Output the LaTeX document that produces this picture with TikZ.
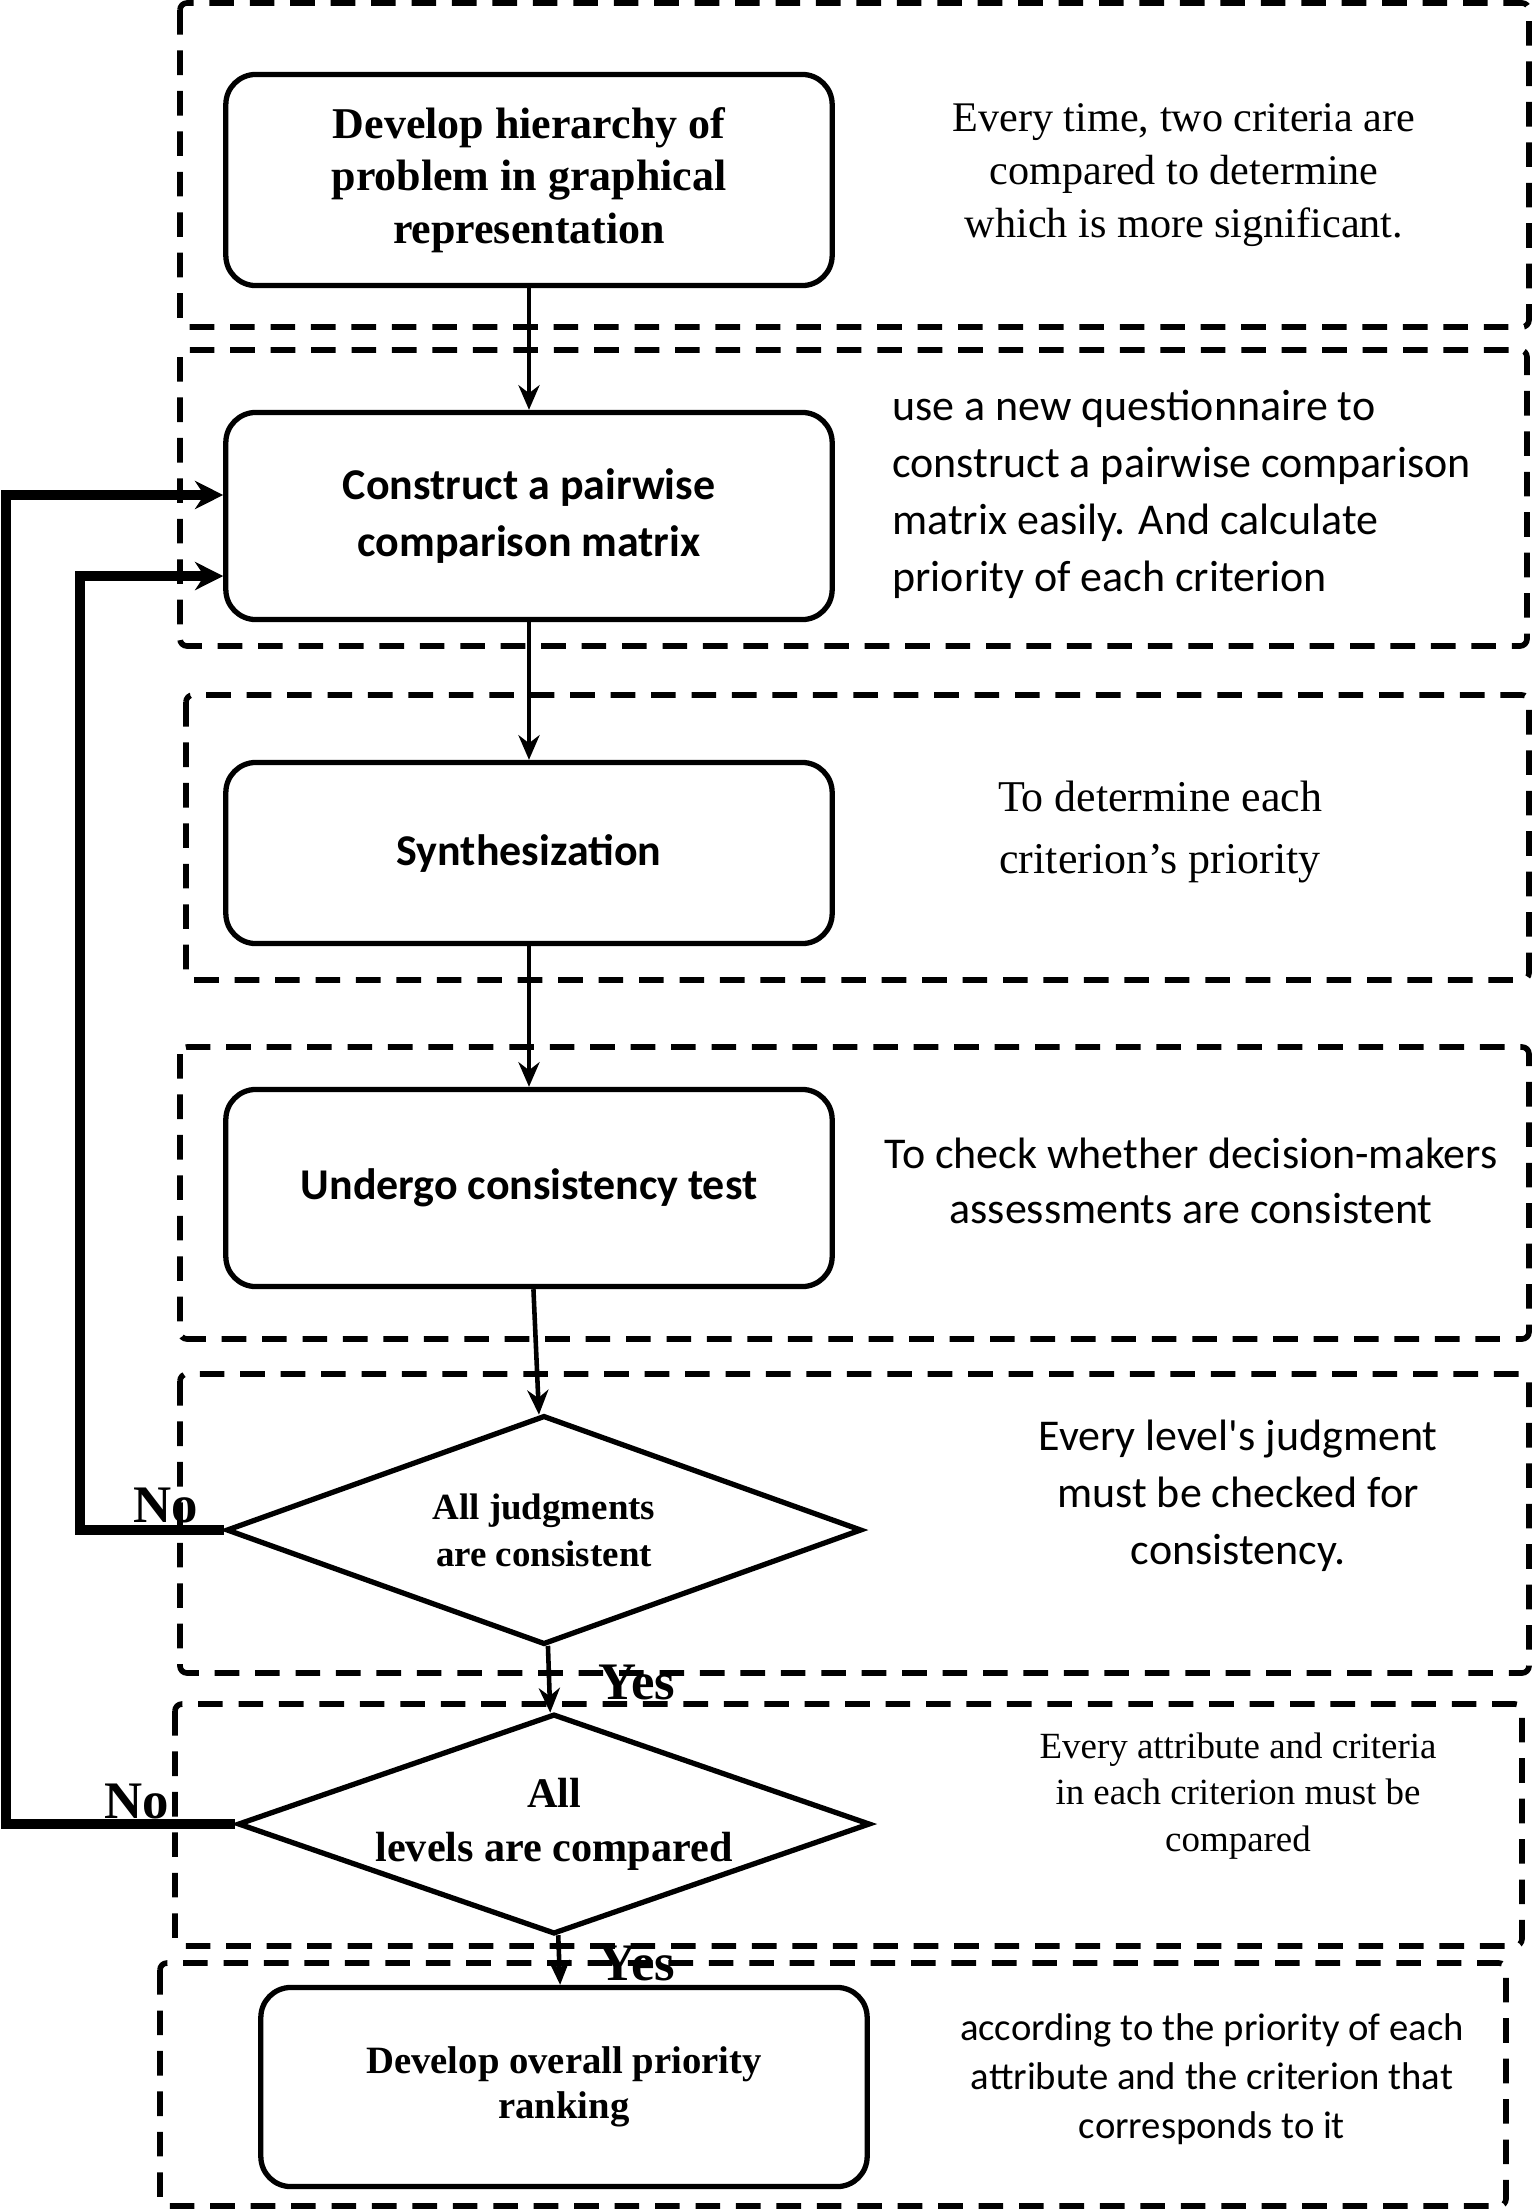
\documentclass[tikz,border=0pt]{standalone}
\usepackage{fontspec}
\setmainfont{Liberation Serif}
\newfontfamily\calfont{Carlito}
\usetikzlibrary{shapes.geometric,arrows.meta}

\begin{document}
\begin{tikzpicture}[
        x=0.01cm, y=-0.01cm,
        proc/.style={rectangle, draw, line width=1.5pt, rounded corners=0.3cm,
                     minimum width=6.06cm, align=center},
        decide/.style={diamond, draw, line width=1.5pt, inner sep=0pt, aspect=2.8,
                       align=center},
        frame/.style={draw, line width=1.6pt, dash pattern=on 7pt off 4.5pt,
                      rounded corners=2pt},
        note/.style={align=center},
        flow/.style={-{Stealth[length=7pt,width=6pt]}, line width=1.3pt},
        back/.style={-{Stealth[length=8pt,width=8pt]}, line width=2.6pt},
        answer/.style={font=\fontsize{15}{15}\selectfont\bfseries}
    ]
        \useasboundingbox (0,0) rectangle (1535,2211);

        % dashed frames, one per step
        \draw[frame] (180,3) rectangle (1529,327);
        \draw[frame] (180,350) rectangle (1527,646);
        \draw[frame] (186,695) rectangle (1529,980);
        \draw[frame] (180,1047) rectangle (1529,1339);
        \draw[frame] (180,1374) rectangle (1529,1673);
        \draw[frame] (175,1704) rectangle (1522,1946);
        \draw[frame] (160,1963) rectangle (1506,2206);

        % steps
        \node[proc, minimum height=2.11cm, font=\fontsize{12.5}{15}\selectfont\bfseries]
            (hier) at (529,180) {Develop hierarchy of\\problem in graphical\\representation};
        \node[proc, minimum height=2.07cm, font=\calfont\fontsize{12.5}{16}\selectfont\bfseries]
            (pair) at (529,516) {Construct a pairwise\\comparison matrix};
        \node[proc, minimum height=1.81cm, font=\calfont\fontsize{12.5}{16}\selectfont\bfseries]
            (synth) at (529,853) {Synthesization};
        \node[proc, minimum height=1.97cm, font=\calfont\fontsize{12.5}{16}\selectfont\bfseries]
            (test) at (529,1188) {Undergo consistency test};
        \node[decide, minimum width=6.35cm, minimum height=2.29cm,
              font=\fontsize{10.5}{13.3}\selectfont\bfseries]
            (judge) at (544,1530) {All judgments\\are consistent};
        \node[decide, minimum width=6.32cm, minimum height=2.2cm,
              font=\fontsize{12}{15.3}\selectfont\bfseries]
            (levels) at (554,1824) {All\\levels are compared};
        \node[proc, minimum height=1.99cm, font=\fontsize{11}{12.8}\selectfont\bfseries]
            (rank) at (564,2087) {Develop overall priority\\ranking};

        % notes on the right
        \node[note, font=\fontsize{12}{15}\selectfont] (n1) at (1184,175)
            {Every time, two criteria are\\compared to determine\\which is more significant.};
        \node[note, align=left, anchor=west, font=\calfont\fontsize{12.5}{16.2}\selectfont]
            (n2) at (880,494) {use a new questionnaire to\\construct a pairwise comparison\\matrix easily. And calculate\\priority of each criterion};
        \node[note, font=\fontsize{12.5}{17.6}\selectfont] (n3) at (1160,832)
            {To determine each\\criterion's priority};
        \node[note, font=\calfont\fontsize{12.5}{15.6}\selectfont] (n4) at (1191,1181)
            {To check whether decision-makers\\assessments are consistent};
        \node[note, font=\calfont\fontsize{12.5}{16.2}\selectfont] (n5) at (1238,1496)
            {Every level's judgment\\must be checked for\\consistency.};
        \node[note, font=\fontsize{10.5}{13.3}\selectfont] (n6) at (1238,1796)
            {Every attribute and criteria\\in each criterion must be\\compared};
        \node[note, font=\calfont\fontsize{11}{13.9}\selectfont] (n7) at (1212,2079)
            {according to the priority of each\\attribute and the criterion that\\corresponds to it};

        % main flow
        \draw[flow] (hier) -- (pair);
        \draw[flow] (pair) -- (synth);
        \draw[flow] (synth) -- (test);
        \draw[flow] (test) -- (judge);
        \draw[flow] (judge) -- (levels);
        \draw[flow] (levels) -- (rank);

        % loops back
        \draw[back] (judge.west) -- (80,1530) |- ([yshift=-0.6cm]pair.west);
        \draw[back] (levels.west) -- (6,1824) |- ([yshift=0.21cm]pair.west);

        \node[answer] (no1) at (166,1505) {No};
        \node[answer] (no2) at (137,1801) {No};
        \node[answer] (yes1) at (637,1682) {Yes};
        \node[answer] (yes2) at (637,1963) {Yes};
    \end{tikzpicture}
\end{document}
